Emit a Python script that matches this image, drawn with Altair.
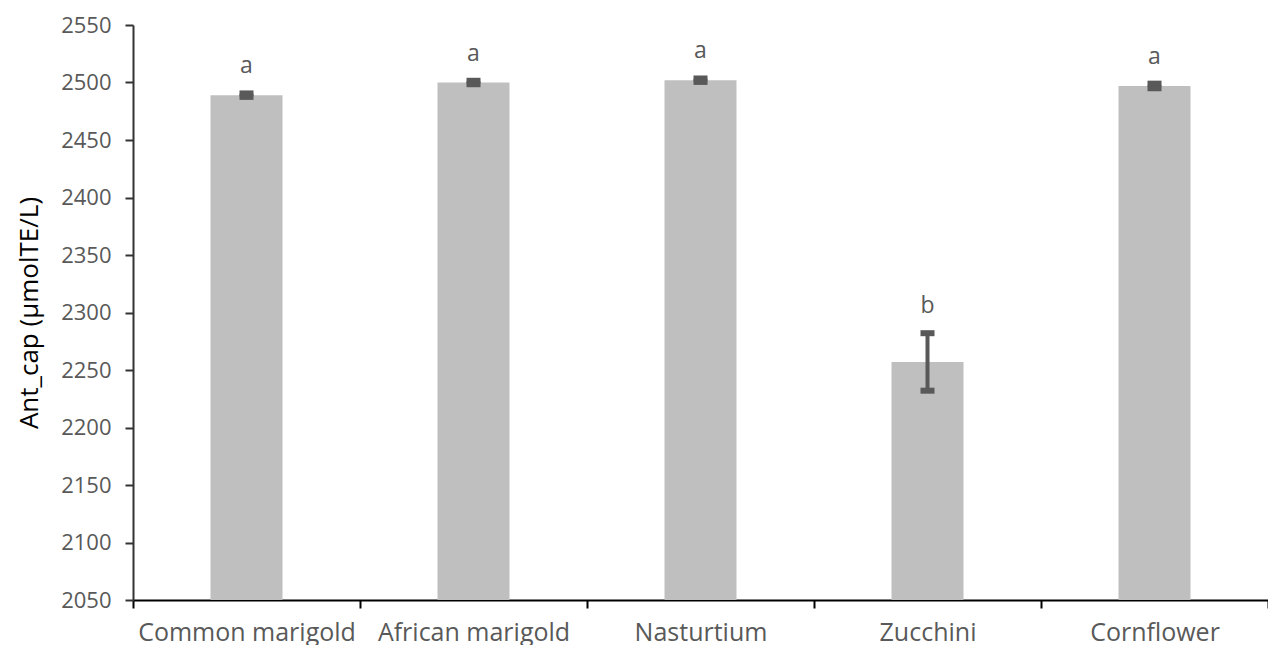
import altair as alt
import pandas as pd

plants = ["Common marigold", "African marigold", "Nasturtium", "Zucchini", "Cornflower"]
means = [2489, 2500, 2502, 2257, 2497]
errors = [1.5, 1.5, 1.5, 25, 2]
letters = ["a", "a", "a", "b", "a"]
y_ticks = [2050, 2100, 2150, 2200, 2250, 2300, 2350, 2400, 2450, 2500, 2550]

df = pd.DataFrame({
    "plant": plants,
    "mean": means,
    "err": errors,
    "letter": letters,
})
df["lo"] = df["mean"] - df["err"]
df["hi"] = df["mean"] + df["err"]

FONT = "Open Sans"
GREY = "#595959"

x_enc = alt.X(
    "plant:N",
    sort=plants,
    scale=alt.Scale(paddingInner=0, paddingOuter=0),
    axis=alt.Axis(
        title=None,
        labelAngle=0,
        labelFont=FONT,
        labelFontSize=25,
        labelColor=GREY,
        labelPadding=12,
        labelLimit=400,
        tickBand="extent",
        tickSize=8,
        tickWidth=2,
        tickColor="#000000",
        domainColor="#000000",
        domainWidth=2,
        grid=False,
    ),
)

y_scale = alt.Scale(domain=[2050, 2550], nice=False, zero=False)

bars = alt.Chart(df).mark_bar(color="#BFBFBF", size=72).encode(
    x=x_enc,
    y=alt.Y(
        "mean:Q",
        scale=y_scale,
        axis=alt.Axis(
            title="Ant_cap (µmolTE/L)",
            titleFont=FONT,
            titleFontSize=26,
            titleFontWeight="normal",
            titleColor="#000000",
            titlePadding=18,
            values=y_ticks,
            format="d",
            labelFont=FONT,
            labelFontSize=22,
            labelColor=GREY,
            labelPadding=14,
            tickSize=8,
            tickWidth=2,
            tickColor="#333333",
            domainColor="#333333",
            domainWidth=2,
            grid=False,
        ),
    ),
    y2=alt.datum(2050),
)

rules = alt.Chart(df).mark_rule(color=GREY, strokeWidth=4).encode(
    x=alt.X("plant:N", sort=plants),
    y=alt.Y("lo:Q", scale=y_scale),
    y2="hi:Q",
)

caps_hi = alt.Chart(df).mark_tick(color=GREY, size=14, thickness=6, opacity=1).encode(
    x=alt.X("plant:N", sort=plants),
    y=alt.Y("hi:Q", scale=y_scale),
)
caps_lo = alt.Chart(df).mark_tick(color=GREY, size=14, thickness=6, opacity=1).encode(
    x=alt.X("plant:N", sort=plants),
    y=alt.Y("lo:Q", scale=y_scale),
)

labels = alt.Chart(df).mark_text(
    font=FONT, fontSize=23, color=GREY, baseline="alphabetic", dy=-20
).encode(
    x=alt.X("plant:N", sort=plants),
    y=alt.Y("hi:Q", scale=y_scale),
    text="letter:N",
)

chart = alt.layer(bars, rules, caps_hi, caps_lo, labels).properties(
    width=1135,
    height=575,
    autosize=alt.AutoSizeParams(type="none"),
    padding={"left": 125, "top": 17, "right": 0, "bottom": 52},
    background="white",
).configure_view(stroke=None)

chart.save("out.html", embed_options={"renderer": "svg", "actions": False})
